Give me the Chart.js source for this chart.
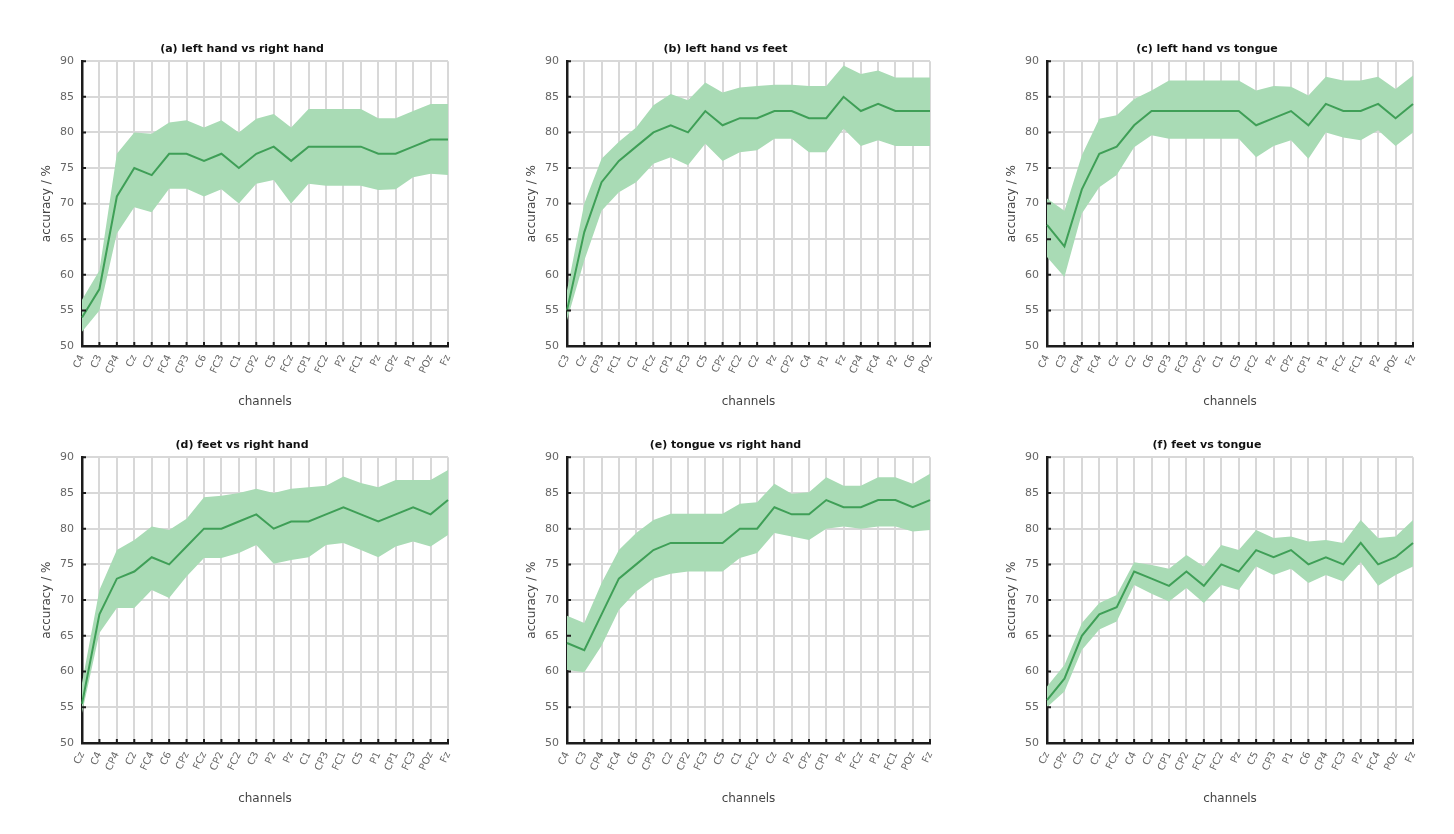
<!DOCTYPE html>
<html>
<head>
<meta charset="utf-8">
<script src="https://cdn.jsdelivr.net/npm/chart.js@4.4.0/dist/chart.umd.min.js"></script>
<style>
  html, body { margin: 0; padding: 0; background: #ffffff; }
  body { width: 1454px; height: 834px; position: relative; overflow: hidden; }
  .box { position: absolute; }
  .box canvas { display: block; }
</style>
</head>
<body>
<div class="box" id="b0"><canvas id="c0"></canvas></div>
<div class="box" id="b1"><canvas id="c1"></canvas></div>
<div class="box" id="b2"><canvas id="c2"></canvas></div>
<div class="box" id="b3"><canvas id="c3"></canvas></div>
<div class="box" id="b4"><canvas id="c4"></canvas></div>
<div class="box" id="b5"><canvas id="c5"></canvas></div>
<script>
// ---------- data ----------
const TITLES = [
  "(a) left hand vs right hand",
  "(b) left hand vs feet",
  "(c) left hand vs tongue",
  "(d) feet vs right hand",
  "(e) tongue vs right hand",
  "(f) feet vs tongue"
];
const X_TITLE = "channels";
const Y_TITLE = "accuracy / %";
const Y_TICKS = [50, 55, 60, 65, 70, 75, 80, 85, 90];

const CH_A = ["C4","C3","CP4","Cz","C2","FC4","CP3","C6","FC3","C1","CP2","C5","FCz","CP1","FC2","P2","FC1","Pz","CPz","P1","POz","Fz"];
const CH_B = ["C3","Cz","CP3","FC1","C1","FCz","CP1","FC3","C5","CPz","FC2","C2","Pz","CP2","C4","P1","Fz","CP4","FC4","P2","C6","POz"];
const CH_C = ["C4","C3","CP4","FC4","Cz","C2","C6","CP3","FC3","CP2","C1","C5","FC2","Pz","CPz","CP1","P1","FCz","FC1","P2","POz","Fz"];
const CH_D = ["Cz","C4","CP4","C2","FC4","C6","CPz","FCz","CP2","FC2","C3","P2","Pz","C1","CP3","FC1","C5","P1","CP1","FC3","POz","Fz"];
const CH_E = ["C4","C3","CP4","FC4","C6","CP3","C2","CP2","FC3","C5","C1","FC2","Cz","P2","CPz","CP1","Pz","FCz","P1","FC1","POz","Fz"];
const CH_F = ["Cz","CPz","C3","C1","FCz","C4","C2","CP1","CP2","FC1","FC2","Pz","C5","CP3","P1","C6","CP4","FC3","P2","FC4","POz","Fz"];

const MEAN_A = [54,58,71,75,74,77,77,76,77,75,77,78,76,78,78,78,78,77,77,78,79,79];
const UP_A   = [56.5,60.6,77,80,79.8,81.4,81.7,80.7,81.7,80,81.9,82.6,80.7,83.3,83.3,83.3,83.3,82,82,83,84,84];
const LO_A   = [52,55,65.8,69.5,68.8,72.1,72.1,71,72,70,72.8,73.3,70,72.8,72.5,72.5,72.5,71.9,72,73.7,74.2,74];

const MEAN_B = [55,66,73,76,78,80,81,80,83,81,82,82,83,83,82,82,85,83,84,83,83,83];
const UP_B   = [57.8,70,76.3,78.7,80.7,83.8,85.4,84.5,87,85.6,86.3,86.5,86.7,86.7,86.5,86.5,89.4,88.2,88.7,87.7,87.7,87.7];
const LO_B   = [53.6,62,69,71.6,73,75.6,76.5,75.4,78.4,76,77.2,77.5,79.1,79.1,77.2,77.2,80.5,78.1,78.9,78.1,78.1,78.1];

const MEAN_C = [67,64,72,77,78,81,83,83,83,83,83,83,81,82,83,81,84,83,83,84,82,84];
const UP_C   = [70.7,69,76.8,81.9,82.4,84.7,85.9,87.3,87.3,87.3,87.3,87.3,85.9,86.5,86.4,85.2,87.8,87.3,87.3,87.8,86.1,88];
const LO_C   = [62.5,59.7,68.6,72.3,74,77.9,79.6,79.1,79.1,79.1,79.1,79.1,76.5,78.1,78.9,76.3,80,79.3,78.9,80.3,78.1,80];

const MEAN_D = [55.5,68,73,74,76,75,77.5,80,80,81,82,80,81,81,82,83,82,81,82,83,82,84];
const UP_D   = [58.4,71.4,77,78.4,80.3,79.8,81.4,84.4,84.6,85,85.6,85,85.6,85.8,86,87.3,86.4,85.8,86.8,86.8,86.8,88.2];
const LO_D   = [54.2,65.4,68.9,68.9,71.4,70.3,73.3,75.9,75.9,76.6,77.7,75.1,75.6,76,77.7,78,77,76,77.5,78.2,77.5,79.1];

const MEAN_E = [64,63,68,73,75,77,78,78,78,78,80,80,83,82,82,84,83,83,84,84,83,84];
const UP_E   = [67.8,66.8,72.4,77,79.4,81.2,82.1,82.1,82.1,82.1,83.5,83.7,86.3,84.9,85.1,87.2,86,86,87.2,87.2,86.3,87.7];
const LO_E   = [60.2,59.9,63.6,68.6,71.2,73,73.7,74,74,74,75.9,76.6,79.4,78.9,78.4,80,80.3,80,80.3,80.3,79.6,79.8];

const MEAN_F = [56,59,65,68,69,74,73,72,74,72,75,74,77,76,77,75,76,75,78,75,76,78];
const UP_F   = [57.9,60.9,66.8,69.6,70.7,75.3,74.9,74.4,76.3,74.7,77.7,77,79.8,78.7,78.9,78.2,78.4,78,81.2,78.7,78.9,81.2];
const LO_F   = [55,57.2,63,65.9,67,72.1,70.9,69.8,71.7,69.6,72.1,71.4,74.7,73.5,74.4,72.4,73.5,72.6,75.3,72,73.5,74.7];

const PANELS = [
  { ch: CH_A, mean: MEAN_A, up: UP_A, lo: LO_A },
  { ch: CH_B, mean: MEAN_B, up: UP_B, lo: LO_B },
  { ch: CH_C, mean: MEAN_C, up: UP_C, lo: LO_C },
  { ch: CH_D, mean: MEAN_D, up: UP_D, lo: LO_D },
  { ch: CH_E, mean: MEAN_E, up: UP_E, lo: LO_E },
  { ch: CH_F, mean: MEAN_F, up: UP_F, lo: LO_F }
];

// ---------- layout (plot areas) ----------
const COL_X = [[82, 448], [567, 930], [1047, 1413]];
const ROW_Y = [[61, 346], [457, 743]];
const Y_AXIS_W = 46, X_AXIS_H = 67, TITLE_H = 31, PAD_R = 8;

const FONT = "'DejaVu Sans', 'Liberation Sans', Arial, sans-serif";
const LINE_COLOR = "#3f9f57";
const BAND_COLOR = "#a9dbb5";
const GRID_COLOR = "#d8d8d8";
const AXIS_COLOR = "#1c1c1c";

const innerTicks = {
  id: 'innerTicks',
  afterDraw(chart) {
    const ctx = chart.ctx;
    const xs = chart.scales.x, ys = chart.scales.y;
    ctx.save();
    ctx.strokeStyle = AXIS_COLOR;
    ctx.lineWidth = 2;
    ctx.beginPath();
    for (let i = 0; i < xs.ticks.length; i++) {
      const px = xs.getPixelForTick(i);
      ctx.moveTo(px, xs.top);
      ctx.lineTo(px, xs.top - 4);
    }
    for (let i = 0; i < ys.ticks.length; i++) {
      const py = ys.getPixelForTick(i);
      ctx.moveTo(ys.right, py);
      ctx.lineTo(ys.right + 4, py);
    }
    ctx.stroke();
    ctx.restore();
  }
};

PANELS.forEach((p, i) => {
  const col = COL_X[i % 3], row = ROW_Y[Math.floor(i / 3)];
  const left = col[0] - Y_AXIS_W, top = row[0] - TITLE_H;
  const w = (col[1] - col[0]) + Y_AXIS_W + PAD_R;
  const h = (row[1] - row[0]) + TITLE_H + X_AXIS_H;
  const box = document.getElementById('b' + i);
  box.style.left = left + 'px';
  box.style.top = top + 'px';
  box.style.width = w + 'px';
  box.style.height = h + 'px';

  new Chart(document.getElementById('c' + i), {
    type: 'line',
    data: {
      labels: p.ch,
      datasets: [
        { data: p.up, borderWidth: 0, pointRadius: 0, backgroundColor: BAND_COLOR, fill: '+1', order: 2 },
        { data: p.lo, borderWidth: 0, pointRadius: 0, backgroundColor: BAND_COLOR, fill: false, order: 2 },
        { data: p.mean, borderColor: LINE_COLOR, borderWidth: 2, pointRadius: 0, fill: false, tension: 0, order: 1 }
      ]
    },
    options: {
      responsive: true,
      maintainAspectRatio: false,
      animation: false,
      events: [],
      layout: { padding: { left: 0, right: PAD_R, top: 0, bottom: 0 } },
      plugins: {
        legend: { display: false },
        tooltip: { enabled: false },
        title: {
          display: true,
          text: TITLES[i],
          color: '#111',
          font: { family: FONT, size: 11, weight: 'bold' },
          padding: { top: 13, bottom: 5 }
        }
      },
      scales: {
        x: {
          type: 'category',
          offset: false,
          grid: { color: GRID_COLOR, lineWidth: 2, drawTicks: false },
          border: { display: true, color: AXIS_COLOR, width: 2.5 },
          ticks: {
            autoSkip: false, minRotation: 65, maxRotation: 65, padding: 7,
            color: '#666', font: { family: FONT, size: 10 }
          },
          title: { display: true, text: X_TITLE, color: '#444', font: { family: FONT, size: 12 }, padding: 4 },
          afterFit(s) { s.height = X_AXIS_H; s.paddingLeft = 0; s.paddingRight = 0; }
        },
        y: {
          min: 50, max: 90,
          afterBuildTicks(s) { s.ticks = Y_TICKS.map(v => ({ value: v })); },
          grid: { color: GRID_COLOR, lineWidth: 2, drawTicks: false },
          border: { display: true, color: AXIS_COLOR, width: 2.5 },
          ticks: { padding: 8, color: '#666', font: { family: FONT, size: 11 } },
          title: { display: true, text: Y_TITLE, color: '#444', font: { family: FONT, size: 12 }, padding: 4 },
          afterFit(s) { s.width = Y_AXIS_W; s.paddingTop = 0; s.paddingBottom = 0; }
        }
      }
    },
    plugins: [innerTicks]
  });
});
</script>
</body>
</html>
